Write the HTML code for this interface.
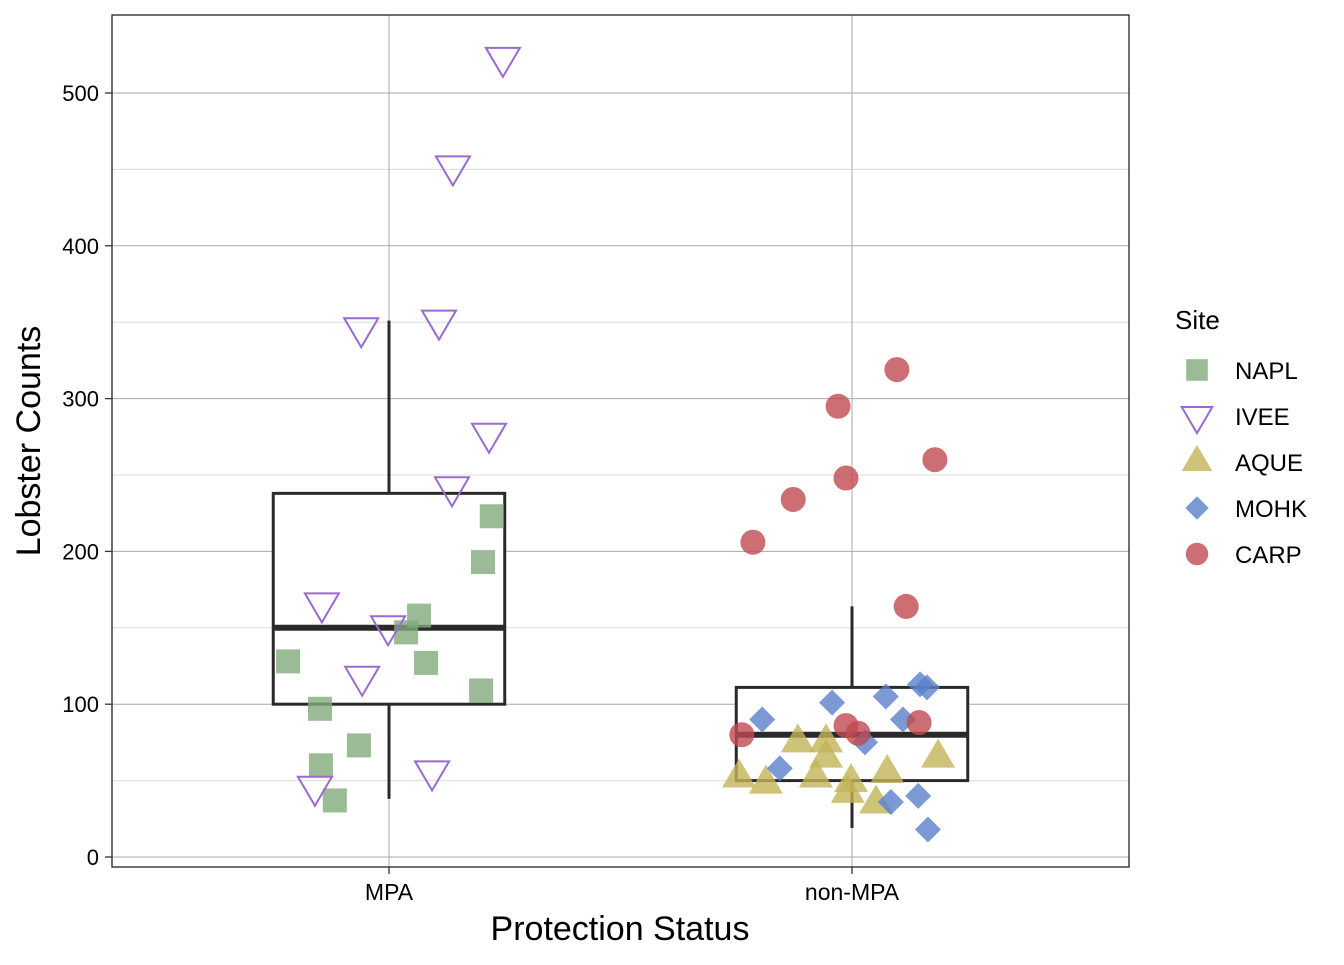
<!DOCTYPE html>
<html><head><meta charset="utf-8">
<style>
body{margin:0;background:#fff;font-family:"Liberation Sans",Arial,sans-serif;}
svg text{font-family:"Liberation Sans",Arial,sans-serif;}
</style></head>
<body>
<svg id="chart" width="1344" height="960" xmlns="http://www.w3.org/2000/svg">
<rect x="0" y="0" width="1344" height="960" fill="#fff"/>
<g id="grid"></g>
<g id="boxes"></g>
<g id="points"></g>
<rect x="112" y="15" width="1017" height="852" fill="none" stroke="#222" stroke-width="1.3"/>
<g id="axes"></g>
<text x="620" y="940" font-size="34" text-anchor="middle" fill="#000">Protection Status</text>
<text transform="translate(40,441) rotate(-90)" font-size="34" text-anchor="middle" fill="#000">Lobster Counts</text>
<g id="legend"></g>
</svg>
<script>
const categories = ["MPA","non-MPA"];
const yTicks = [0,100,200,300,400,500];
const yMinor = [50,150,250,350,450];
const sites = ["NAPL","IVEE","AQUE","MOHK","CARP"];
// box stats: [lowerWhisker, Q1, median, Q3, upperWhisker]
const boxMPA = [38,100,150,238,351];
const boxNon = [19,50,80,111,164];
// points: category index, jitter (category units), value
const naplCat = [0,0,0,0,0,0,0,0,0,0,0];
const naplJit = [-0.218,-0.149,-0.147,-0.117,-0.065,0.037,0.065,0.080,0.199,0.203,0.222];
const naplVal = [128,97,60,37,73,147,158,127,109,193,223];
const iveeCat = [0,0,0,0,0,0,0,0,0,0,0];
const iveeJit = [0.246,0.138,-0.060,0.108,0.216,0.136,-0.145,-0.002,-0.058,-0.160,0.093];
const iveeVal = [523,452,346,351,277,242,166,151,118,46,56];
const aqueCat = [1,1,1,1,1,1,1,1,1,1,1];
const aqueJit = [-0.244,-0.186,-0.117,-0.056,-0.056,-0.078,-0.002,-0.009,0.052,0.076,0.186];
const aqueVal = [52,48,75,75,65,52,49,42,35,55,65];
const mohkCat = [1,1,1,1,1,1,1,1,1,1,1];
const mohkJit = [-0.194,-0.043,0.073,0.147,0.162,0.110,0.028,-0.156,0.084,0.143,0.164];
const mohkVal = [90,101,105,113,111,90,75,58,36,40,18];
const carpCat = [1,1,1,1,1,1,1,1,1,1,1];
const carpJit = [-0.238,-0.214,-0.127,-0.030,-0.013,-0.013,0.013,0.097,0.117,0.145,0.179];
const carpVal = [80,206,234,295,248,86,81,319,164,88,260];

const NS="http://www.w3.org/2000/svg";
const xS = (c,j) => 389 + (c + (j||0)) * 463;
const yS = v => 857 - v * 1.528;
function mk(tag, parent, attrs){const e=document.createElementNS(NS,tag);for(const k in attrs)e.setAttribute(k,attrs[k]);document.getElementById(parent).appendChild(e);return e;}

yMinor.forEach(v=>{const l=mk('line','grid',{x1:112,x2:1129,y1:yS(v),y2:yS(v),stroke:'#dcdcdc','stroke-width':1});

});
yTicks.forEach(v=>{const l=mk('line','grid',{x1:112,x2:1129,y1:yS(v),y2:yS(v),stroke:'#aaaaaa','stroke-width':1});


const t=mk('line','axes',{x1:105,x2:112,y1:yS(v),y2:yS(v),stroke:'#333','stroke-width':1.3});


const tx=mk('text','axes',{x:99,y:yS(v)+8,'font-size':22,'text-anchor':'end',fill:'#000'});tx.textContent=v;

});
categories.forEach((c,i)=>{const x=xS(i);
const l=mk('line','grid',{x1:x,x2:x,y1:15,y2:867,stroke:'#aaaaaa','stroke-width':1});


const t=mk('line','axes',{x1:x,x2:x,y1:867,y2:874,stroke:'#333','stroke-width':1.3});


const tx=mk('text','axes',{x:x,y:900,'font-size':23,'text-anchor':'middle',fill:'#000'});tx.textContent=c;

});

[boxMPA,boxNon].forEach((b,i)=>{const x=xS(i),hw=0.25*463;
const w1=mk('line','boxes',{x1:x,x2:x,y1:yS(b[0]),y2:yS(b[1]),stroke:'#2a2a2a','stroke-width':3});


const w2=mk('line','boxes',{x1:x,x2:x,y1:yS(b[3]),y2:yS(b[4]),stroke:'#2a2a2a','stroke-width':3});


const r=mk('rect','boxes',{x:x-hw,y:yS(b[3]),width:2*hw,height:yS(b[1])-yS(b[3]),fill:'#fff',stroke:'#2a2a2a','stroke-width':3});


const m=mk('line','boxes',{x1:x-hw,x2:x+hw,y1:yS(b[2]),y2:yS(b[2]),stroke:'#2a2a2a','stroke-width':6});

});

function shape(site,parent,cx,cy,scale){
 const s=scale||1;let e;
 if(site==='NAPL'){e=mk('rect',parent,{x:cx-12*s,y:cy-12*s,width:24*s,height:24*s,fill:'#82a97c','fill-opacity':0.8});}
 else if(site==='IVEE'){e=mk('polygon',parent,{points:`${cx-17*s},${cy-10*s} ${cx+17*s},${cy-10*s} ${cx},${cy+19*s}`,fill:'none',stroke:'#9a6ad0','stroke-width':2});}
 else if(site==='AQUE'){e=mk('polygon',parent,{points:`${cx-17*s},${cy+10*s} ${cx+17*s},${cy+10*s} ${cx},${cy-19*s}`,fill:'#c2b456','fill-opacity':0.8});}
 else if(site==='MOHK'){e=mk('polygon',parent,{points:`${cx},${cy-13*s} ${cx+13*s},${cy} ${cx},${cy+13*s} ${cx-13*s},${cy}`,fill:'#5a7fca','fill-opacity':0.8});}
 else {e=mk('circle',parent,{cx:cx,cy:cy,r:12.5*s,fill:'#bf4a50','fill-opacity':0.8});}
 return e;}
const series=[["NAPL",naplCat,naplJit,naplVal],["IVEE",iveeCat,iveeJit,iveeVal],["AQUE",aqueCat,aqueJit,aqueVal],["MOHK",mohkCat,mohkJit,mohkVal],["CARP",carpCat,carpJit,carpVal]];
series.forEach(([s,cat,jit,val])=>{val.forEach((v,i)=>{const e=shape(s,'points',xS(cat[i],jit[i]),yS(v));

});});

const lt=mk('text','legend',{x:1175,y:329,'font-size':26,fill:'#000'});lt.textContent='Site';


sites.forEach((s,i)=>{const y=370+i*46;
const e=shape(s,'legend',1197,y,0.9);


const t=mk('text','legend',{x:1235,y:y+9,'font-size':24,fill:'#000'});t.textContent=s;

});
</script>
</body></html>
